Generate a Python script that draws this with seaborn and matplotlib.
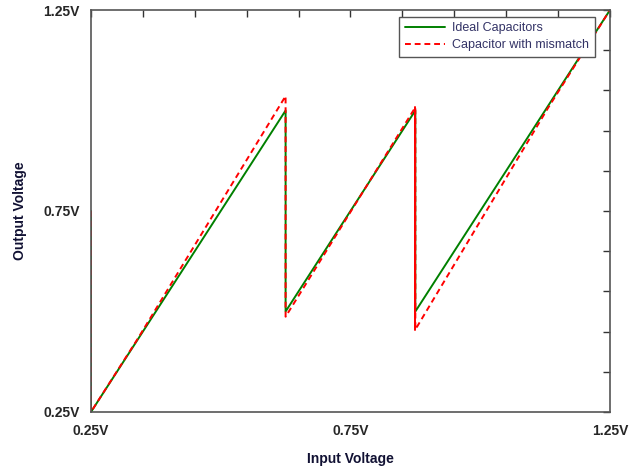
import matplotlib
matplotlib.use('Agg')
import matplotlib.pyplot as plt
import pandas as pd
import seaborn as sns

# Data (input / output voltage, V)
ideal_x = [0.25, 0.25, 0.625, 0.625, 0.875, 0.875, 1.25]
ideal_y = [0.75, 0.25, 1.000, 0.500, 1.000, 0.500, 1.25]

mismatch_x = [0.25, 0.25, 0.34, 0.625, 0.625, 0.875, 0.875, 1.13, 1.25]
mismatch_y = [0.75, 0.25, 0.432, 1.036, 0.487, 1.008, 0.455, 1.005, 1.25]

tick_values = [0.25, 0.35, 0.45, 0.55, 0.65, 0.75, 0.85, 0.95, 1.05, 1.15, 1.25]
tick_labels = ['0.25V', '', '', '', '', '0.75V', '', '', '', '', '1.25V']

df_ideal = pd.DataFrame({'x': ideal_x, 'y': ideal_y})
df_mis = pd.DataFrame({'x': mismatch_x, 'y': mismatch_y})

sns.set_style('white')
plt.rcParams['font.family'] = ['Liberation Sans', 'DejaVu Sans']

fig = plt.figure(figsize=(6.3, 4.68), dpi=100)
ax = fig.add_axes([0.1444, 0.1197, 0.8238, 0.8589])

sns.lineplot(data=df_ideal, x='x', y='y', sort=False, estimator=None,
             color='#008000', linewidth=1.4, label='Ideal Capacitors', ax=ax)
sns.lineplot(data=df_mis, x='x', y='y', sort=False, estimator=None,
             color='#ff0000', linewidth=1.4, linestyle=(0, (3, 2)),
             label='Capacitor with mismatch', ax=ax)
# second jump of the mismatch curve shows up as a solid line
sns.lineplot(data=df_mis.iloc[5:7], x='x', y='y', sort=False, estimator=None,
             color='#ff0000', linewidth=1.4, ax=ax, legend=False)

ax.set_xlim(0.25, 1.25)
ax.set_ylim(0.25, 1.25)
ax.set_xticks(tick_values)
ax.set_yticks(tick_values)
ax.set_xticklabels(tick_labels, fontweight='bold', fontsize=10)
ax.set_yticklabels(tick_labels, fontweight='bold', fontsize=10)
ax.tick_params(direction='in', length=5, width=1, color='#333333',
               top=True, right=True, pad=9)
ax.tick_params(axis='y', pad=8)
for s in ax.spines.values():
    s.set_color('#555555')
    s.set_linewidth(1.2)

ax.set_xlabel('Input Voltage', fontweight='bold', fontsize=10, color='#111133', labelpad=10)
ax.set_ylabel('Output Voltage', fontweight='bold', fontsize=10, color='#111133', labelpad=12)

leg = ax.legend(loc='upper right', bbox_to_anchor=(0.971, 0.983), fontsize=9,
                fancybox=False, framealpha=1, edgecolor='#555555',
                handlelength=3.2, borderpad=0.45, labelspacing=0.4,
                handletextpad=0.6, borderaxespad=0)
leg.get_frame().set_linewidth(1.0)
for t in leg.get_texts():
    t.set_color('#333366')

fig.savefig('out.png', dpi=100)
